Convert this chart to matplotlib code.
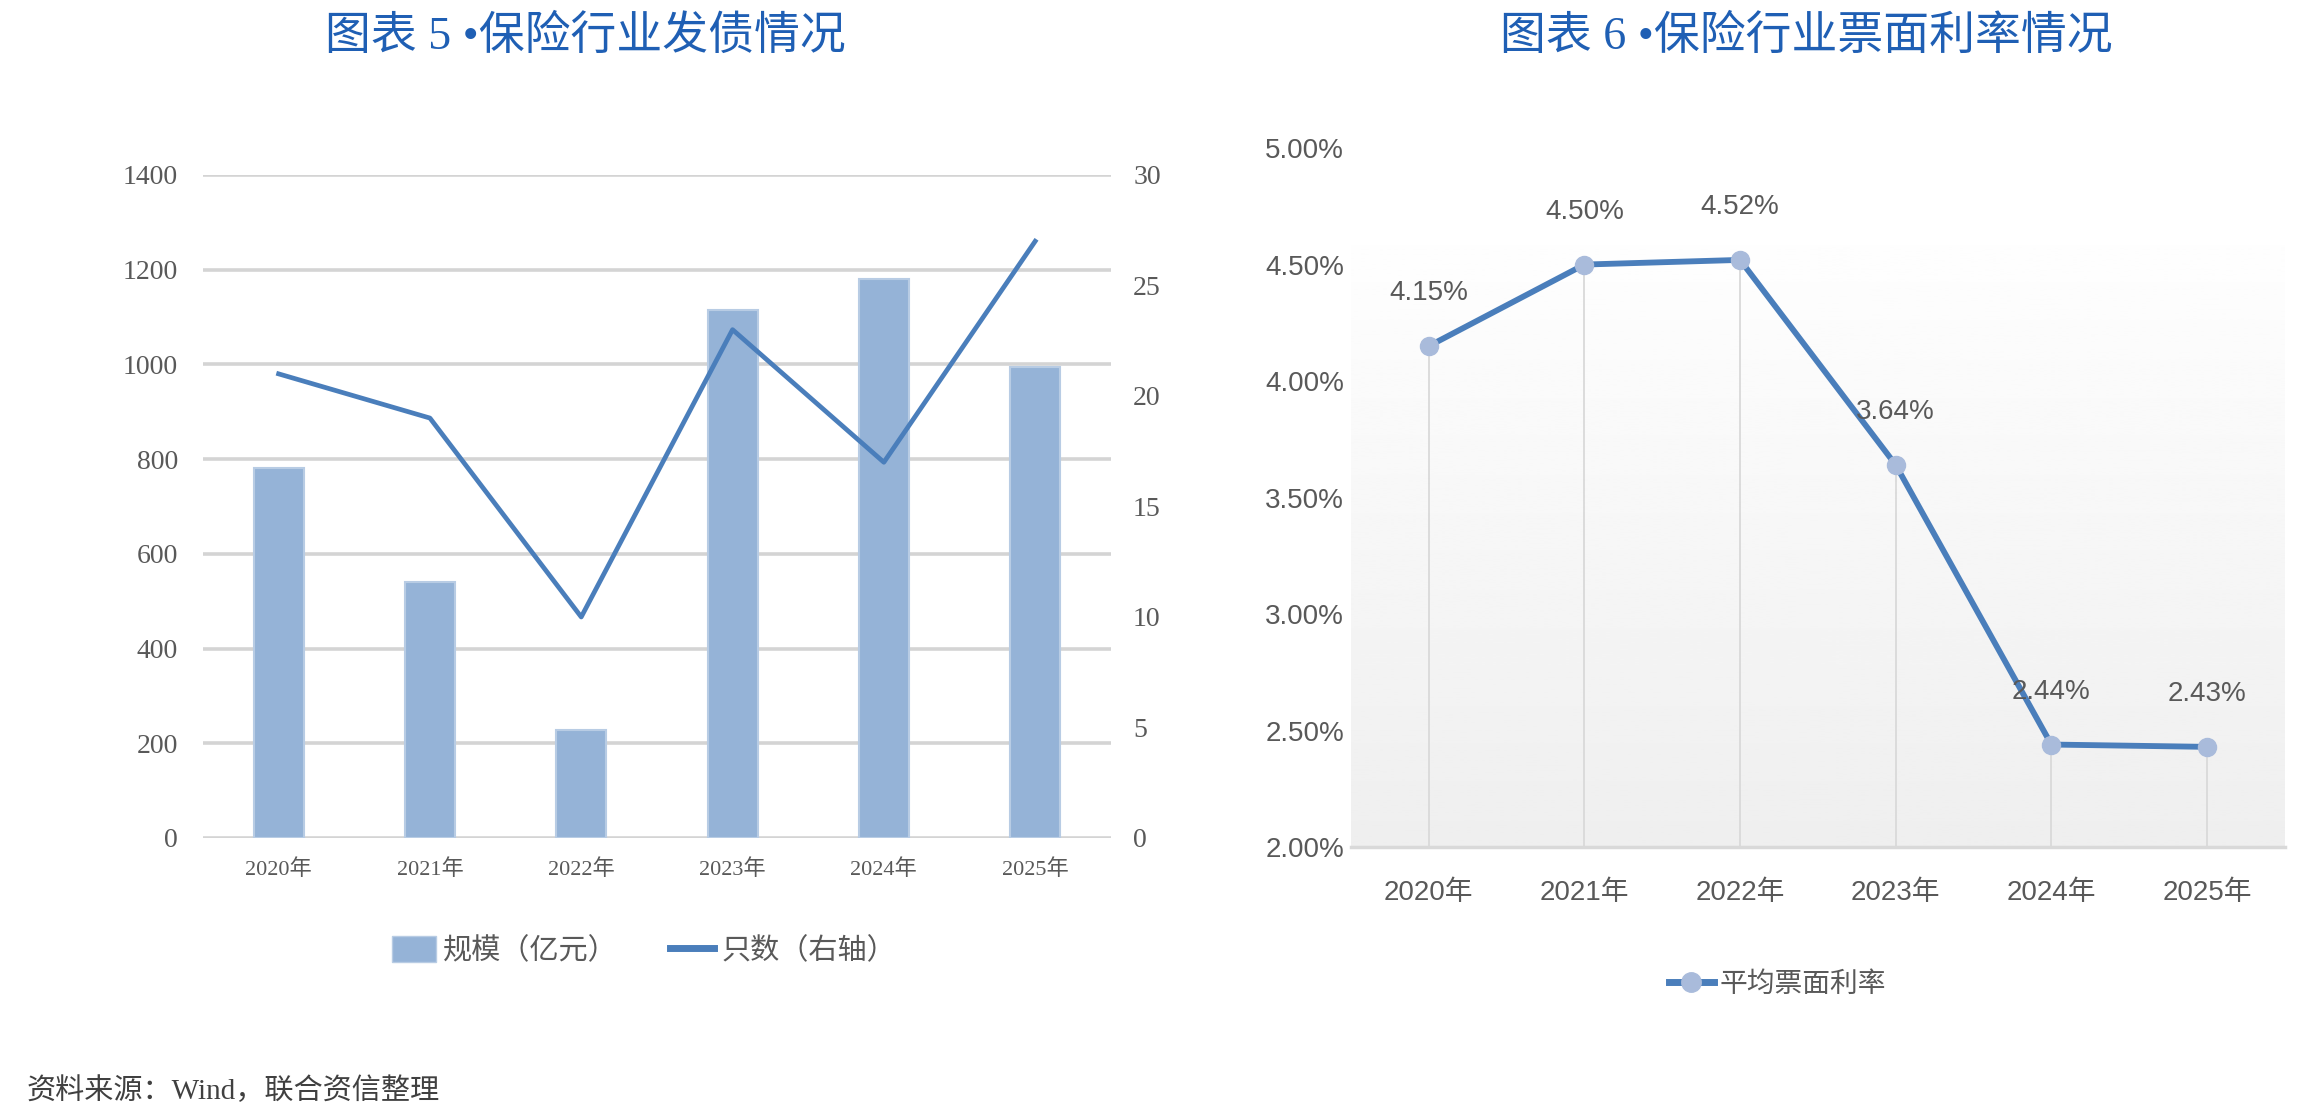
import numpy as np
import matplotlib
matplotlib.use("Agg")
import matplotlib.pyplot as plt
from matplotlib import font_manager as fm
from matplotlib.patches import Patch
from matplotlib.lines import Line2D

# data
years = ["2020年", "2021年", "2022年", "2023年", "2024年", "2025年"]
scale = [781, 541, 228, 1115, 1180, 995]        # 规模（亿元）
count = [21, 19, 10, 23, 17, 27]                # 只数（右轴）
rate = [4.15, 4.50, 4.52, 3.64, 2.44, 2.43]     # 平均票面利率 %
rate_labels = ["4.15%", "4.50%", "4.52%", "3.64%", "2.44%", "2.43%"]
left_ticks = [0, 200, 400, 600, 800, 1000, 1200, 1400]
right_ticks = [0, 5, 10, 15, 20, 25, 30]
rate_ticks = [2.0, 2.5, 3.0, 3.5, 4.0, 4.5, 5.0]

names = {f.name for f in fm.fontManager.ttflist}
narrow = "Liberation Sans Narrow" if "Liberation Sans Narrow" in names else "Liberation Sans"
SERIF = ["Liberation Serif", "Noto Sans CJK SC"]
SANS = [narrow, "Noto Sans CJK SC"]
CJK = ["Noto Sans CJK SC", "DejaVu Sans"]
plt.rcParams["font.family"] = CJK

title_col = "#1f5fb4"
text_col = "#595959"
bar_col = "#95b3d7"
line_col = "#4a7ebb"

fig = plt.figure(figsize=(23.22, 11.2), dpi=100)

# ---- left chart: 保险行业发债情况
ax = fig.add_axes([0.0874, 0.2518, 0.391, 0.592])
x = np.arange(len(years))
ax.bar(x, scale, width=0.33, color=bar_col, edgecolor="#b8cce4", linewidth=1.5, zorder=2)
ax.set_xlim(-0.5, len(years) - 0.5)
ax.set_ylim(0, 1400)
ax.set_yticks(left_ticks)
ax.yaxis.grid(True, color="#d4d4d4", linewidth=2.6)
ax.set_axisbelow(True)
for s in ax.spines.values():
    s.set_visible(False)
ax.set_xticks(x)
ax.set_xticklabels(years, family=SERIF, fontsize=16, color=text_col)
ax.tick_params(axis="x", length=0, pad=15)
ax.tick_params(axis="y", length=0, pad=18, labelsize=20, labelcolor=text_col)
for t in ax.get_yticklabels():
    t.set_family(SERIF)

ax2 = ax.twinx()
ax2.plot(x, count, color=line_col, linewidth=3.4, zorder=3)
ax2.set_ylim(0, 30)
ax2.set_yticks(right_ticks)
for s in ax2.spines.values():
    s.set_visible(False)
ax2.tick_params(axis="y", length=0, pad=16, labelsize=20, labelcolor=text_col)
for t in ax2.get_yticklabels():
    t.set_family(SERIF)

fig.legend(handles=[Patch(facecolor=bar_col, edgecolor="#b8cce4", label="规模（亿元）"),
                    Line2D([], [], color=line_col, linewidth=5, label="只数（右轴）")],
           loc="center", bbox_to_anchor=(0.2773, 0.151), ncol=2, frameon=False,
           prop={"family": SERIF, "size": 21}, labelcolor=text_col,
           handlelength=1.5, handleheight=1.0, columnspacing=1.8, handletextpad=0.25)

fig.text(0.252, 0.967, "图表 5 •保险行业发债情况", ha="center", va="center",
         fontsize=33, color=title_col, family=SERIF)

# ---- right chart: 保险行业票面利率情况
bx = fig.add_axes([0.5818, 0.2437, 0.4022, 0.6241])
bx.set_xlim(-0.5, len(years) - 0.5)
bx.set_ylim(2.0, 5.0)
grad = np.linspace(0.935, 1.0, 256).reshape(-1, 1)
bx.imshow(grad, cmap="gray", vmin=0, vmax=1, aspect="auto", origin="lower",
          extent=(-0.5, len(years) - 0.5, 2.0, 4.75), zorder=0)
bx.vlines(x, 2.0, rate, color="#d9d9d9", linewidth=1.3, zorder=1)
bx.plot(x, rate, color=line_col, linewidth=4.2, marker="o", markersize=13,
        markerfacecolor="#a9bbdb", markeredgecolor="#a9bbdb", zorder=3)
for xi, yi, lab in zip(x, rate, rate_labels):
    bx.annotate(lab, (xi, yi), xytext=(0, 38), textcoords="offset points",
                ha="center", va="center", fontsize=20, color=text_col, family=SANS)
for k, s in bx.spines.items():
    s.set_visible(k == "bottom")
bx.spines["bottom"].set_color("#d9d9d9")
bx.spines["bottom"].set_linewidth(2.5)
bx.set_xticks(x)
bx.set_xticklabels(years, family=SANS, fontsize=20, color=text_col)
bx.set_yticks(rate_ticks)
bx.set_yticklabels([f"{v:.2f}%" for v in rate_ticks], family=SANS, fontsize=20, color=text_col)
bx.tick_params(axis="x", length=0, pad=24)
bx.tick_params(axis="y", length=0, pad=5)

fig.legend(handles=[Line2D([], [], color=line_col, linewidth=5, marker="o", markersize=14,
                           markerfacecolor="#a9bbdb", markeredgecolor="#a9bbdb", label="平均票面利率")],
           loc="center", bbox_to_anchor=(0.7655, 0.1205), frameon=False,
           prop={"family": SANS, "size": 20}, labelcolor=text_col,
           handlelength=1.6, handletextpad=0.2)

fig.text(0.778, 0.967, "图表 6 •保险行业票面利率情况", ha="center", va="center",
         fontsize=33, color=title_col, family=SERIF)

fig.text(0.0116, 0.026, "资料来源：Wind，联合资信整理", ha="left", va="center",
         fontsize=21, color="#404040", family=SERIF)

fig.savefig("out.png", dpi=100, facecolor="white")
